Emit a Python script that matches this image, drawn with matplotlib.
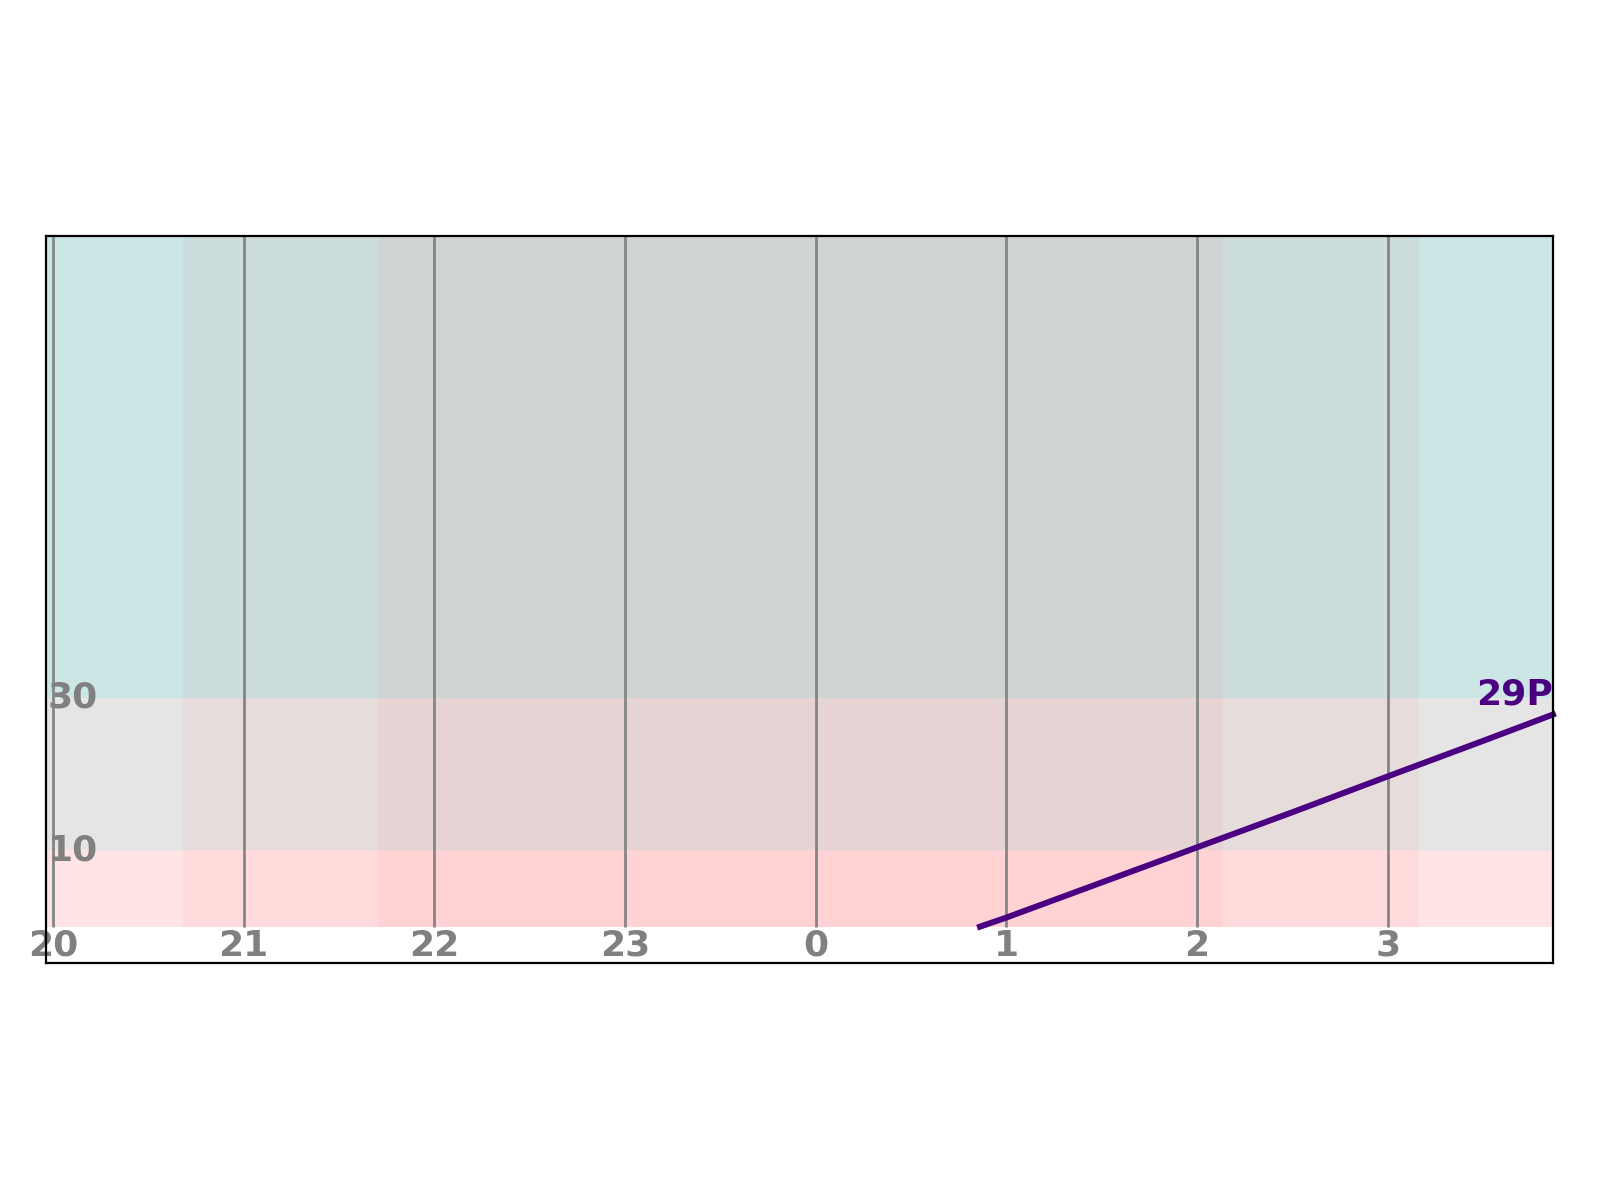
import matplotlib
matplotlib.use("Agg")
import matplotlib.pyplot as plt

# ---- data ----
hour_ticks = [20, 21, 22, 23, 24, 25, 26, 27]
hour_labels = ["20", "21", "22", "23", "0", "1", "2", "3"]
alt_labels_pos = [10, 30]
alt_labels = ["10", "30"]

alt_band_edges = [0, 10, 30, 90.5]
alt_band_colors = ["#ffe4e6", "#e5e5e5", "#cce6e6"]

dark_spans = [(20.684, 27.161), (21.704, 26.137)]

target_name = "29P"
track_hours = [24.861, 25.0, 25.5, 26.0, 26.5, 27.0, 27.5, 27.866]
track_alt = [0.0, 1.2, 5.8, 10.4, 15.0, 19.7, 24.35, 27.8]

x_min, x_max = 19.963, 27.866
y_min, y_max = -4.76, 90.5

# ---- figure ----
fig = plt.figure(figsize=(16, 12), dpi=100)
ax = fig.add_axes([0.02875, 0.1975, 0.94185, 0.6058])
ax.set_xlim(x_min, x_max)
ax.set_ylim(y_min, y_max)

for lo, hi, c in zip(alt_band_edges[:-1], alt_band_edges[1:], alt_band_colors):
    ax.fill_between([x_min, x_max], lo, hi, color=c, lw=0, zorder=0)

for a, b in dark_spans:
    ax.fill_between([a, b], 0, y_max, color="#ff0000", alpha=0.04, lw=0, zorder=1)

ax.vlines(hour_ticks, 0, y_max, colors="#858585", lw=2.0, zorder=2)

for h, lab in zip(hour_ticks, hour_labels):
    ax.text(h, -0.3, lab, ha="center", va="top", fontsize=26,
            fontweight="bold", color="#808080", zorder=5)

for y, lab in zip(alt_labels_pos, alt_labels):
    ax.text(x_min + 0.008, y, lab, ha="left", va="center", fontsize=26,
            fontweight="bold", color="#808080", zorder=5)

ax.plot(track_hours, track_alt, color="#4b0082", lw=4.3, zorder=4, clip_on=False)
ax.text(track_hours[-1], track_alt[-1] + 0.4, target_name, ha="right", va="bottom",
        fontsize=26, fontweight="bold", color="#4b0082", zorder=5)

ax.set_xticks([])
ax.set_yticks([])
for s in ax.spines.values():
    s.set_linewidth(1.6)
    s.set_color("black")
    s.set_zorder(6)

fig.savefig("out.png", dpi=100)
